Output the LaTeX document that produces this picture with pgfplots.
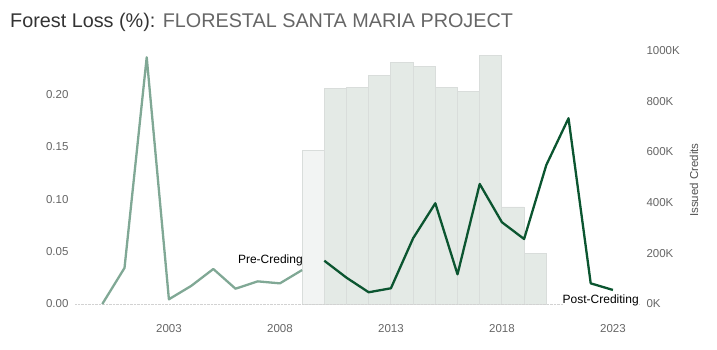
\documentclass[border=0pt]{standalone}
\usepackage{pgfplots}
\pgfplotsset{compat=1.18}
\usepackage{fontspec}
\setmainfont{Liberation Sans}
\definecolor{preline}{HTML}{80A895}
\definecolor{postline}{HTML}{0B5530}
\definecolor{barA}{HTML}{F2F4F3}
\definecolor{barB}{HTML}{E4EAE6}
\definecolor{baredge}{HTML}{D9DDDB}
\definecolor{ticktxt}{HTML}{666666}
\begin{document}
\begin{tikzpicture}[x=1pt,y=1pt]
\path[use as bounding box] (0,0) rectangle (717,350);
% bars (right axis)
\begin{axis}[at={(75pt,38pt)}, anchor=south west, scale only axis,
  width=565pt, height=267pt,
  xmin=1998.77, xmax=2024.22, ymin=-31.6, ymax=1022.5,
  axis x line=none, axis y line*=right, axis line style={draw=none},
  major tick length=0pt,
  ytick={0,200,400,600,800,1000},
  yticklabel={\pgfmathprintnumber[1000 sep={}, assume math mode=true]{\tick}K},
  yticklabel style={font=\fontsize{11.5}{13}\selectfont, text=ticktxt, xshift=3pt},
]
\addplot[ybar, bar width=1, bar shift=0, fill=barA, draw=baredge, line width=0.9pt] coordinates {(2009.5,605)};
\addplot[ybar, bar width=1, bar shift=0, fill=barB, draw=baredge, line width=0.9pt] coordinates {
(2010.5,849) (2011.5,854) (2012.5,901) (2013.5,953) (2014.5,936) (2015.5,854)
(2016.5,838) (2017.5,980) (2018.5,383) (2019.5,199)};
\end{axis}
% lines (left axis)
\begin{axis}[at={(75pt,38pt)}, anchor=south west, scale only axis,
  width=565pt, height=267pt,
  xmin=1998.77, xmax=2024.22, ymin=-0.00763, ymax=0.2471,
  axis x line*=bottom, axis y line*=left, axis line style={draw=none},
  major tick length=0pt,
  xtick={2003,2008,2013,2018,2023},
  xticklabel style={/pgf/number format/.cd, 1000 sep={}, assume math mode=true, /tikz/.cd, font=\fontsize{11.5}{13}\selectfont, text=ticktxt, yshift=-9pt},
  ytick={0,0.05,0.1,0.15,0.2},
  yticklabel style={/pgf/number format/.cd, fixed, fixed zerofill, precision=2, assume math mode=true, /tikz/.cd, font=\fontsize{11.5}{13}\selectfont, text=ticktxt, xshift=-3pt},
  extra y ticks={0}, extra y tick labels={},
  extra y tick style={grid=major, major grid style={densely dotted, gray!35, line width=0.8pt}},
  clip=false,
]
\addplot[preline, line width=2.3pt, line join=round] coordinates {
(2000,0) (2001,0.0344) (2002,0.2354) (2003,0.0045) (2004,0.0172) (2005,0.0334)
(2006,0.0146) (2007,0.0216) (2008,0.0197) (2009,0.0324)};
\addplot[postline, line width=2.3pt, line join=round] coordinates {
(2010,0.0413) (2011,0.0251) (2012,0.0112) (2013,0.015) (2014,0.0627) (2015,0.0961)
(2016,0.0283) (2017,0.1145) (2018,0.078) (2019,0.062) (2020,0.1326) (2021,0.1772)
(2022,0.0197) (2023,0.0134)};
\node[font=\fontsize{12}{14}\selectfont, inner sep=0pt] at (axis cs:2007.57,0.042) {Pre-Creding};
\node[font=\fontsize{12}{14}\selectfont, inner sep=0pt, fill=white] at (axis cs:2022.45,0.0038) {Post-Crediting};
\end{axis}
\node[rotate=90, font=\fontsize{11.5}{13}\selectfont, text=ticktxt!80!black] at (694,170) {Issued Credits};
\node[anchor=base west, inner sep=0pt, font=\fontsize{19.8}{22}\selectfont] at (10,322) {\textcolor[HTML]{333333}{Forest Loss (\%):} \textcolor[HTML]{666666}{FLORESTAL SANTA MARIA PROJECT}};
\end{tikzpicture}
\end{document}
